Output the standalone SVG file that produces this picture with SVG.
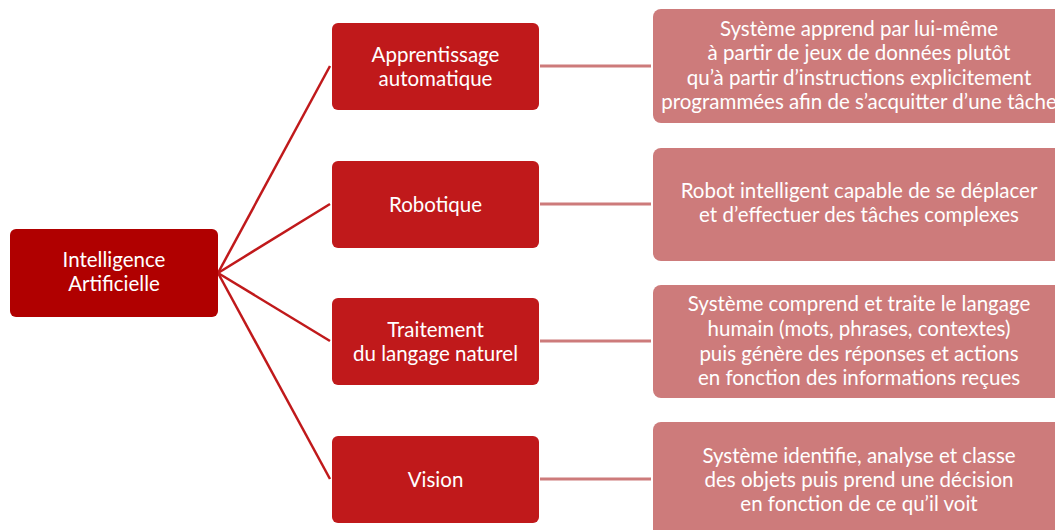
<svg xmlns="http://www.w3.org/2000/svg" width="1055" height="530" viewBox="0 0 1055 530">
<style>
.root{fill:#b00000}
.mid{fill:#c0191b}
.det{fill:#cd7b7b}
text{font-family:"Lato","Liberation Sans",sans-serif;font-size:20.5px;fill:#ffffff;text-anchor:middle}
.c1{stroke:#c0191b;stroke-width:2.5;fill:none}
.c2{stroke:#cd7b7b;stroke-width:3;fill:none}
</style>
<rect width="1055" height="530" fill="#ffffff"/>
<g id="connectors">
<line class="c1" x1="218" y1="273" x2="330" y2="66"/>
<line class="c1" x1="218" y1="273" x2="330" y2="204"/>
<line class="c1" x1="218" y1="273" x2="330" y2="341"/>
<line class="c1" x1="218" y1="273" x2="330" y2="479"/>
<line class="c2" x1="540" y1="66" x2="651" y2="66"/>
<line class="c2" x1="540" y1="204" x2="651" y2="204"/>
<line class="c2" x1="540" y1="341" x2="651" y2="341"/>
<line class="c2" x1="540" y1="479" x2="651" y2="479"/>
</g>
<g id="root">
<rect class="root" x="10" y="229" width="208" height="88" rx="6"/>
<text x="114" y="267">Intelligence</text>
<text x="114" y="291">Artificielle</text>
</g>
<g id="apprentissage">
<rect class="mid" x="332" y="23" width="207" height="87" rx="6"/>
<text x="435.5" y="62">Apprentissage</text>
<text x="435.5" y="86">automatique</text>
</g>
<g id="robotique">
<rect class="mid" x="332" y="161" width="207" height="87" rx="6"/>
<text x="435.5" y="212">Robotique</text>
</g>
<g id="traitement">
<rect class="mid" x="332" y="298" width="207" height="87" rx="6"/>
<text x="435.5" y="337">Traitement</text>
<text x="435.5" y="361">du langage naturel</text>
</g>
<g id="vision">
<rect class="mid" x="332" y="436" width="207" height="87" rx="6"/>
<text x="435.5" y="487">Vision</text>
</g>
<g id="desc-apprentissage">
<rect class="det" x="653" y="9" width="420" height="114" rx="8"/>
<text x="859" y="36">Système apprend par lui-même</text>
<text x="859" y="60">à partir de jeux de données plutôt</text>
<text x="859" y="85">qu’à partir d’instructions explicitement</text>
<text x="859" y="109">programmées afin de s’acquitter d’une tâche</text>
</g>
<g id="desc-robotique">
<rect class="det" x="653" y="148" width="420" height="113" rx="8"/>
<text x="859" y="198">Robot intelligent capable de se déplacer</text>
<text x="859" y="222">et d’effectuer des tâches complexes</text>
</g>
<g id="desc-traitement">
<rect class="det" x="653" y="285" width="420" height="113" rx="8"/>
<text x="859" y="311">Système comprend et traite le langage</text>
<text x="859" y="336">humain (mots, phrases, contextes)</text>
<text x="859" y="361">puis génère des réponses et actions</text>
<text x="859" y="385">en fonction des informations reçues</text>
</g>
<g id="desc-vision">
<rect class="det" x="653" y="422" width="420" height="120" rx="8"/>
<text x="859" y="463">Système identifie, analyse et classe</text>
<text x="859" y="487">des objets puis prend une décision</text>
<text x="859" y="511">en fonction de ce qu’il voit</text>
</g>
</svg>
